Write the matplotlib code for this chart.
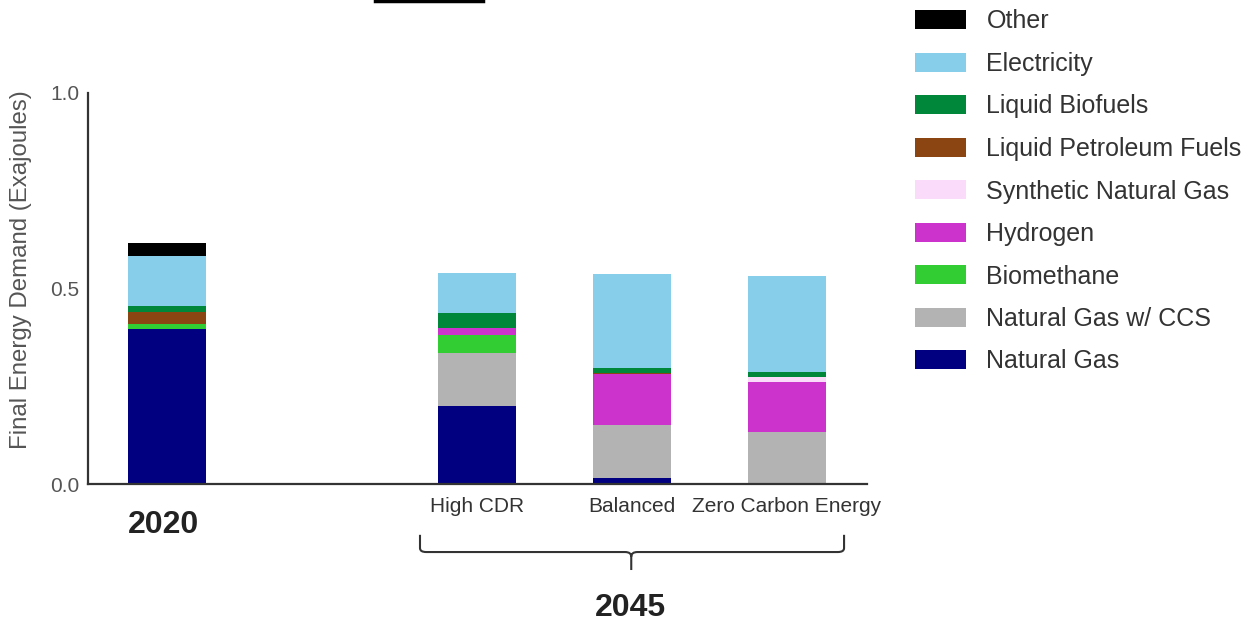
import matplotlib
matplotlib.use("Agg")
import matplotlib.pyplot as plt
from matplotlib.path import Path
from matplotlib.patches import PathPatch, Patch
from matplotlib.lines import Line2D
import matplotlib.transforms as mtransforms

plt.rcParams['font.family'] = ['Liberation Sans', 'DejaVu Sans']

# Данные
positions = [0, 2, 3, 4]
scenarios = ['High CDR', 'Balanced', 'Zero Carbon Energy']
fuels = ['Natural Gas', 'Natural Gas w/ CCS', 'Biomethane', 'Hydrogen',
         'Synthetic Natural Gas', 'Liquid Petroleum Fuels', 'Liquid Biofuels',
         'Electricity', 'Other']
natural_gas = [0.396, 0.200, 0.015, 0.0]
natural_gas_ccs = [0.0, 0.134, 0.136, 0.134]
biomethane = [0.013, 0.046, 0.0, 0.0]
hydrogen = [0.0, 0.020, 0.130, 0.126]
synthetic_gas = [0.0, 0.0, 0.0, 0.014]
petroleum = [0.031, 0.0, 0.003, 0.0]
biofuels = [0.015, 0.038, 0.012, 0.013]
electricity = [0.128, 0.102, 0.241, 0.245]
other = [0.033, 0.0, 0.0, 0.0]
series = [natural_gas, natural_gas_ccs, biomethane, hydrogen, synthetic_gas,
          petroleum, biofuels, electricity, other]
colors = ['#000080', '#b3b3b3', '#32cd32', '#cc33cc', '#fadcfa',
          '#8b4513', '#00873a', '#87ceeb', '#000000']

fig = plt.figure(figsize=(12.59, 6.24), dpi=100)
ax = fig.add_axes([88 / 1259, 1 - 484 / 624, (867 - 88) / 1259, (484 - 93) / 624])

bottom = [0.0] * len(positions)
for vals, col in zip(series, colors):
    ax.bar(positions, vals, width=0.5, bottom=bottom, color=col, linewidth=0)
    bottom = [b + v for b, v in zip(bottom, vals)]

ax.set_xlim(-0.51, 4.516)
ax.set_ylim(0, 1.0)
ax.set_yticks([0.0, 0.5, 1.0])
ax.set_yticklabels(['0.0', '0.5', '1.0'])
ax.set_xticks(positions[1:])
ax.set_xticklabels(scenarios)
ax.tick_params(axis='y', length=0, pad=6, labelsize=15, labelcolor='#555555')
ax.tick_params(axis='x', length=0, pad=9, labelsize=15, labelcolor='#333333')
for s in ['top', 'right']:
    ax.spines[s].set_visible(False)
for s in ['left', 'bottom']:
    ax.spines[s].set_color('#333333')
    ax.spines[s].set_linewidth(1.6)

ax.set_ylabel('Final Energy Demand (Exajoules)', fontsize=17.3, color='#555555')
ax.yaxis.set_label_coords(-0.072, 0.547)

# Подписи годов
trans = mtransforms.blended_transform_factory(ax.transData, ax.transAxes)
ax.text(-0.02, -0.105, '2020', transform=trans, ha='center', va='center',
        fontsize=23, fontweight='bold', color='#222222')
ax.text(2.99, -0.318, '2045', transform=trans, ha='center', va='center',
        fontsize=23, fontweight='bold', color='#222222')

# Фигурная скобка под сценариями
x0, x1, xm = 1.632, 4.368, 2.995
yt, yh, yb = -0.130, -0.174, -0.220
r = 0.04
verts = [(x0, yt), (x0, yh + 0.01), (x0, yh), (x0 + r, yh),
         (xm - r, yh), (xm, yh), (xm, yh - 0.012), (xm, yb),
         (xm, yh - 0.012), (xm, yh), (xm + r, yh),
         (x1 - r, yh), (x1, yh), (x1, yh + 0.01), (x1, yt)]
codes = [Path.MOVETO, Path.LINETO, Path.CURVE3, Path.CURVE3,
         Path.LINETO, Path.CURVE3, Path.CURVE3, Path.LINETO,
         Path.MOVETO, Path.CURVE3, Path.CURVE3,
         Path.LINETO, Path.CURVE3, Path.CURVE3, Path.LINETO]
ax.add_patch(PathPatch(Path(verts, codes), transform=trans, fill=False,
                       edgecolor='#333333', linewidth=1.5, clip_on=False))

# Легенда (обратный порядок)
handles = [Patch(facecolor=c, edgecolor='none') for c in colors[::-1]]
fig.legend(handles, fuels[::-1], loc='upper left',
           bbox_to_anchor=(897 / 1259, 1 + 8 / 624), frameon=False,
           fontsize=18, handlelength=2.04, handleheight=0.8,
           handletextpad=0.84, labelspacing=0.74, labelcolor='#333333',
           borderpad=0.2)

# Черная линия сверху (обрезанный заголовок)
fig.add_artist(Line2D([375 / 1259, 483 / 1259], [1 - 1 / 624, 1 - 1 / 624],
                      color='black', linewidth=2.5))

fig.savefig('out.png', dpi=100)
